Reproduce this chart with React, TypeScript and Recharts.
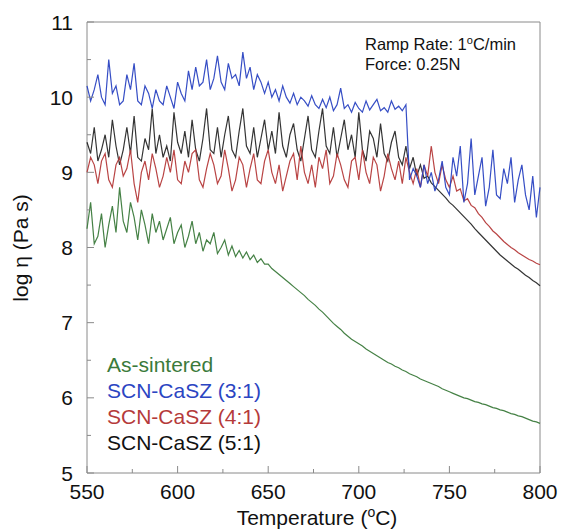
import { LineChart, Line, XAxis, YAxis, ReferenceArea } from "recharts";

// temperature grid (°C), read every 2 degrees
const TEMPS = [
  550, 552, 554, 556, 558, 560, 562, 564, 566, 568, 570, 572, 574, 576, 578,
  580, 582, 584, 586, 588, 590, 592, 594, 596, 598, 600, 602, 604, 606, 608,
  610, 612, 614, 616, 618, 620, 622, 624, 626, 628, 630, 632, 634, 636, 638,
  640, 642, 644, 646, 648, 650, 652, 654, 656, 658, 660, 662, 664, 666, 668,
  670, 672, 674, 676, 678, 680, 682, 684, 686, 688, 690, 692, 694, 696, 698,
  700, 702, 704, 706, 708, 710, 712, 714, 716, 718, 720, 722, 724, 726, 728,
  730, 732, 734, 736, 738, 740, 742, 744, 746, 748, 750, 752, 754, 756, 758,
  760, 762, 764, 766, 768, 770, 772, 774, 776, 778, 780, 782, 784, 786, 788,
  790, 792, 794, 796, 798, 800,
];

// log viscosity, as-sintered
const AS_SINTERED = [
  8.25, 8.6, 8.05, 8.15, 8.45, 8.0, 8.3, 8.55, 8.2, 8.8,
  8.35, 8.2, 8.6, 8.4, 8.1, 8.5, 8.3, 8.05, 8.45, 8.2,
  8.35, 8.1, 8.25, 8.4, 8.05, 8.2, 8.3, 8.0, 8.15, 8.35,
  8.05, 8.2, 7.95, 8.1, 8.05, 8.2, 7.92, 8.0, 8.1, 7.9,
  8.02, 7.88, 7.96, 7.86, 7.94, 7.84, 7.9, 7.8, 7.85, 7.78,
  7.78, 7.72, 7.68, 7.64, 7.6, 7.56, 7.52, 7.48, 7.44, 7.4,
  7.36, 7.31, 7.27, 7.23, 7.18, 7.14, 7.09, 7.04, 6.99, 6.95, 6.91, 6.86, 6.82, 6.78, 6.75,
  6.72, 6.69, 6.65, 6.62, 6.59, 6.56, 6.53, 6.5, 6.47, 6.45, 6.42, 6.4, 6.37, 6.35, 6.32,
  6.3, 6.28, 6.25, 6.23, 6.21, 6.19, 6.17, 6.15, 6.12, 6.1, 6.08, 6.06, 6.04, 6.02, 6.0,
  5.99, 5.97, 5.95, 5.94, 5.92, 5.91, 5.89, 5.87, 5.86, 5.84, 5.83, 5.81, 5.79, 5.78, 5.76,
  5.75, 5.73, 5.71, 5.69, 5.68, 5.66,
];

// SCN-CaSZ (3:1)
const SCN_3_1 = [
  10.15, 9.95, 10.1, 10.3, 10.0, 9.9, 10.5, 10.05, 10.15, 9.9,
  9.95, 10.3, 10.1, 10.45, 9.95, 9.9, 10.15, 10.05, 9.85, 10.1,
  9.95, 9.9, 10.15, 10.0, 9.85, 10.2, 10.05, 9.95, 10.35, 10.1,
  10.4, 10.15, 10.2, 10.5, 10.1, 10.25, 10.55, 10.2, 10.1, 10.45,
  10.25, 10.3, 10.15, 10.6, 10.25, 10.4, 10.1, 10.3, 10.2, 10.05,
  10.2, 10.0, 10.1, 9.95, 10.15, 10.0, 9.92, 10.05, 9.9, 10.0,
  9.95, 9.88, 10.02, 9.9, 9.85, 9.97, 9.86, 10.0, 9.82, 9.9,
  10.12, 9.85, 9.9, 9.8, 9.93, 9.85, 9.8, 9.95, 9.83, 9.9,
  9.97, 9.82, 9.86, 9.8, 9.95, 9.84, 9.88, 9.82, 9.9,
  8.9, 9.05, 8.95, 8.8, 9.1, 8.85, 9.0, 8.75, 8.9, 9.15,
  8.8, 8.7, 9.2, 8.95, 9.35, 8.6, 8.85, 9.45, 8.7, 8.95,
  9.2, 8.55, 8.8, 9.3, 8.7, 8.65, 9.05, 8.85, 9.2, 8.6,
  8.9, 9.1, 8.7, 8.5, 8.95, 8.4, 8.8,
];

// SCN-CaSZ (4:1)
const SCN_4_1 = [
  9.0, 9.2, 9.1, 8.85, 9.15, 9.25, 8.9, 8.8, 9.1, 9.2,
  8.95, 9.05, 9.3, 8.85, 8.6, 9.0, 9.15, 8.9, 9.25, 9.05,
  8.8, 8.95, 9.2, 9.0, 9.3, 8.9, 8.85, 9.15, 9.0, 9.25,
  9.3, 8.9, 8.8, 9.05, 9.25, 9.1, 8.85, 8.95, 9.3, 9.05,
  8.75, 8.9, 9.2, 9.1, 8.8, 9.05, 9.25, 8.9, 8.85, 9.15,
  9.3, 9.0, 8.85, 9.1, 8.75, 8.95, 9.15, 9.25, 8.9, 9.35,
  9.0, 8.85, 9.1, 8.8, 9.2, 9.05, 9.3, 8.85, 8.95, 9.25,
  9.1, 8.9, 8.8, 9.15, 9.2, 8.9, 9.3, 9.0, 8.85, 9.2,
  9.1, 8.75, 8.95, 9.25, 9.05, 8.9, 9.15, 8.85, 9.2, 9.0,
  8.85, 9.05, 8.8, 9.1, 8.95, 9.35, 9.0, 8.85, 9.1, 8.9,
  8.8, 8.95, 8.75, 8.78, 8.62, 8.65, 8.56, 8.53, 8.45, 8.4,
  8.33, 8.28, 8.22, 8.18, 8.13, 8.08, 8.04, 8.0, 7.97, 7.93,
  7.9, 7.87, 7.84, 7.82, 7.79, 7.77,
];

// SCN-CaSZ (5:1)
const SCN_5_1 = [
  9.4, 9.25, 9.6, 9.15, 9.3, 9.5, 9.2, 9.7, 9.35, 9.1,
  9.3, 9.6, 9.25, 9.75, 9.2, 9.15, 9.45, 9.3, 9.85, 9.25,
  9.5, 9.2, 9.35, 9.15, 9.8, 9.4, 9.25, 9.55, 9.2, 9.7,
  9.3, 9.15, 9.45, 9.85, 9.3, 9.25, 9.6, 9.2, 9.5, 9.75,
  9.3, 9.2, 9.55, 9.85, 9.35, 9.25, 9.6, 9.2, 9.45, 9.7,
  9.3, 9.55, 9.25, 9.8, 9.35, 9.2, 9.5, 9.65, 9.3, 9.15,
  9.45, 9.75, 9.3, 9.2, 9.55, 9.85, 9.35, 9.25, 9.6, 9.2,
  9.45, 9.7, 9.3, 9.5, 9.2, 9.8, 9.3, 9.15, 9.55, 9.45,
  9.2, 9.65, 9.25, 9.15, 9.4, 9.55, 9.2, 9.1, 9.35,
  9.05, 9.2, 8.95, 9.1, 8.92, 8.95, 8.86, 8.81, 8.76, 8.71,
  8.66, 8.6, 8.56, 8.51, 8.46, 8.41, 8.36, 8.31, 8.25, 8.2,
  8.15, 8.1, 8.05, 8.0, 7.95, 7.9, 7.86, 7.82, 7.78, 7.74,
  7.71, 7.67, 7.63, 7.6, 7.56, 7.53, 7.49,
];

const X_TICKS = [550, 575, 600, 625, 650, 675, 700, 725, 750, 775, 800];
const Y_TICKS = [5, 5.5, 6, 6.5, 7, 7.5, 8, 8.5, 9, 9.5, 10, 10.5, 11];

const SERIES = [
  { key: "asSintered", name: "As-sintered", color: "#3b7a3b", values: AS_SINTERED },
  { key: "scn51", name: "SCN-CaSZ (5:1)", color: "#111111", values: SCN_5_1 },
  { key: "scn41", name: "SCN-CaSZ (4:1)", color: "#b53a3a", values: SCN_4_1 },
  { key: "scn31", name: "SCN-CaSZ (3:1)", color: "#2b45c2", values: SCN_3_1 },
];

const LEGEND_ORDER = ["asSintered", "scn31", "scn41", "scn51"];

const data = TEMPS.map((t, i) => {
  const row: Record<string, number> = { t };
  for (const s of SERIES) row[s.key] = s.values[i];
  return row;
});

const FONT = "'Liberation Sans', Arial, Helvetica, sans-serif";
const FRAME = "#8a8a8a";
const X_MARGIN = 26;
const Y_MARGIN = 14;

function XTick(props: any) {
  const { x, y, payload } = props;
  const v = payload.value;
  const major = v % 50 === 0;
  const axisY = y - X_MARGIN;
  return (
    <g>
      <line x1={x} x2={x} y1={axisY} y2={axisY - (major ? 7 : 4)} stroke={FRAME} />
      {major && (
        <text x={x} y={y} textAnchor="middle" fontSize={21} fontFamily={FONT} fill="#111">
          {v}
        </text>
      )}
    </g>
  );
}

function YTick(props: any) {
  const { x, y, payload } = props;
  const v = payload.value;
  const major = Number.isInteger(v);
  const axisX = x + Y_MARGIN;
  return (
    <g>
      <line x1={axisX} x2={axisX + (major ? 7 : 4)} y1={y} y2={y} stroke={FRAME} />
      {major && (
        <text x={x} y={y} dy="0.36em" textAnchor="end" fontSize={21} fontFamily={FONT} fill="#111">
          {v}
        </text>
      )}
    </g>
  );
}

export default function App() {
  const byKey = new Map(SERIES.map((s) => [s.key, s]));
  return (
    <div style={{ position: "absolute", left: 0, top: 0, width: 561, height: 531, background: "#fff" }}>
      <LineChart
        width={561}
        height={531}
        data={data}
        margin={{ top: 22, right: 21, left: 27, bottom: 28 }}
      >
        <XAxis
          dataKey="t"
          type="number"
          domain={[550, 800]}
          ticks={X_TICKS}
          axisLine={false}
          tickLine={false}
          tickSize={0}
          tickMargin={X_MARGIN}
          tick={(p: any) => <XTick {...p} />}
          height={30}
          interval={0}
        />
        <YAxis
          type="number"
          domain={[5, 11]}
          ticks={Y_TICKS}
          axisLine={false}
          tickLine={false}
          tickSize={0}
          tickMargin={Y_MARGIN}
          tick={(p: any) => <YTick {...p} />}
          width={60}
          interval={0}
        />
        {SERIES.map((s) => (
          <Line
            key={s.key}
            dataKey={s.key}
            stroke={s.color}
            strokeWidth={1.2}
            strokeOpacity={s.key === "scn51" ? 0.85 : 0.95}
            dot={false}
            type="linear"
            isAnimationActive={false}
          />
        ))}
        <ReferenceArea
          x1={550}
          x2={800}
          y1={5}
          y2={11}
          fill="none"
          fillOpacity={0}
          stroke={FRAME}
          strokeWidth={1}
          ifOverflow="visible"
        />
      </LineChart>

      <svg
        width={561}
        height={531}
        style={{ position: "absolute", left: 0, top: 0, pointerEvents: "none" }}
      >
        <text x={365} y={50} fontSize={16.5} fontFamily={FONT} fill="#111">
          Ramp Rate: 1<tspan dy={-6} fontSize={11}>o</tspan>
          <tspan dy={6}>C/min</tspan>
        </text>
        <text x={365} y={70} fontSize={16.5} fontFamily={FONT} fill="#111">
          Force: 0.25N
        </text>

        {LEGEND_ORDER.map((k, i) => {
          const s = byKey.get(k)!;
          return (
            <text key={k} x={107} y={372 + i * 26} fontSize={21} fontFamily={FONT} fill={s.color}>
              {s.name}
            </text>
          );
        })}

        <text x={317} y={525} textAnchor="middle" fontSize={21} fontFamily={FONT} fill="#111">
          Temperature (<tspan dy={-8} fontSize={14}>o</tspan>
          <tspan dy={8}>C)</tspan>
        </text>

        <text
          x={0}
          y={0}
          transform="translate(28 248) rotate(-90)"
          textAnchor="middle"
          fontSize={21}
          fontFamily={FONT}
          fill="#111"
        >
          log η (Pa s)
        </text>
      </svg>
    </div>
  );
}
